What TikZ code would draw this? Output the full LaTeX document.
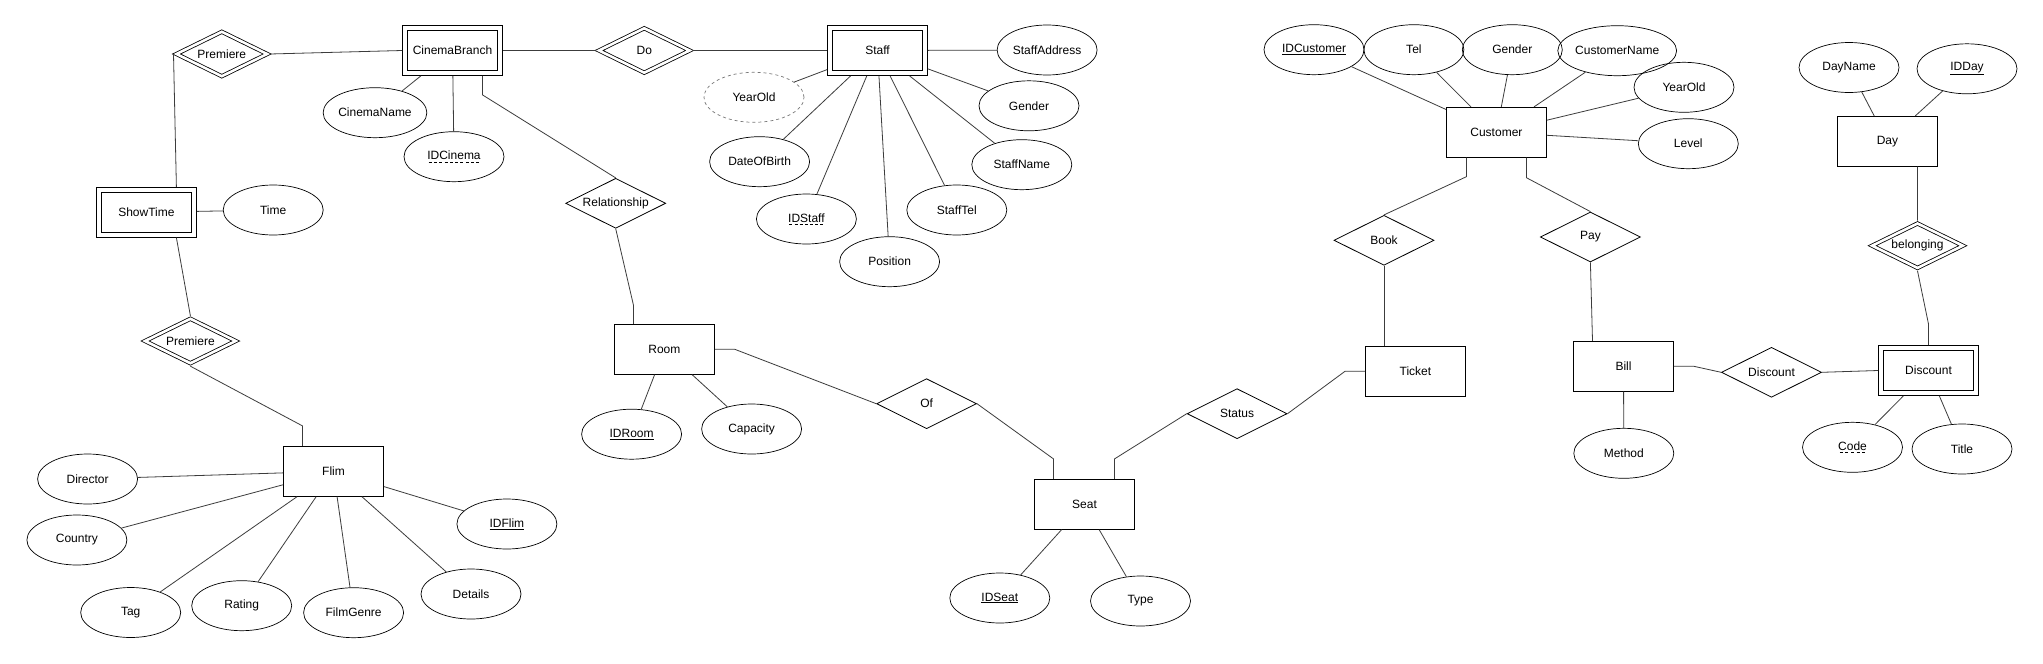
\documentclass[tikz,border=0pt]{standalone}
\usepackage{fontspec}
\setmainfont{Liberation Sans}
\usepackage{tikz}
\usetikzlibrary{shapes.geometric,calc}
\usepackage{xcolor}
\definecolor{linegray}{RGB}{60,60,60}
\definecolor{derivedgray}{RGB}{120,120,120}
\tikzstyle{entity} = [draw, rectangle, line width=0.8pt, minimum width=100pt, minimum height=50pt, inner sep=0pt]
\tikzstyle{weakentity} = [entity, double, double distance=4pt, minimum width=95.2pt, minimum height=45.2pt, outer sep=2.8pt]
\tikzstyle{attr} = [draw, ellipse, line width=0.7pt, minimum width=100pt, minimum height=50pt, inner sep=0pt]
\tikzstyle{derivedattr} = [attr, dashed, draw=derivedgray]
\tikzstyle{relation} = [draw, diamond, aspect=2, line width=0.8pt, minimum width=100pt, minimum height=50pt, inner sep=0pt]
\tikzstyle{weakrelation} = [relation, double, double distance=2.6pt, minimum width=92.4pt, minimum height=46.2pt, outer sep=2.1pt]
\tikzstyle{erline} = [line width=0.8pt, color=linegray]
% dashed underline for partial keys
\newcommand{\partkey}[1]{\setbox0\hbox{#1}\rlap{\hbox to \wd0{\xleaders\hbox to 5pt{\hss\vrule height -1.6pt depth 2.3pt width 3pt\hss}\hfill}}\box0}

\begin{document}
\begin{tikzpicture}[x=1pt, y=-1pt, font=\fontsize{12}{14}\selectfont]
\fill[white] (0,0) rectangle (2043,664);
\useasboundingbox (0,0) rectangle (2043,664);

% Cinema branch and show times
\node[weakentity] (branch) at (452.5,50.5) {CinemaBranch};
\node[weakrelation] (prem1) at (221.8,54) {Premiere};
\node[weakentity] (show) at (146.4,212.3) {ShowTime};
\node[attr] (time) at (273.2,210) {Time};
\node[attr] (cname) at (375,112.7) {CinemaName};
\node[attr] (idcinema) at (454,156.7) {\partkey{IDCinema}};
\node[relation] (relship) at (615.7,203.3) {Relationship};
\node[weakrelation] (prem2) at (190.4,341) {Premiere};

% Film
\node[entity] (film) at (333.5,471.3) {Flim};
\node[attr] (director) at (87.6,479) {Director};
\node[attr] (country) at (76.9,540) {Country};
\node[attr] (tag) at (130.7,612.5) {Tag};
\node[attr] (rating) at (241.7,605.7) {Rating};
\node[attr] (genre) at (353.6,612.7) {FilmGenre};
\node[attr] (details) at (471,594) {Details};
\node[attr] (idfilm) at (506.9,524) {\underline{IDFlim}};

% Staff
\node[weakrelation] (do) at (644.3,50.5) {Do};
\node[weakentity] (staff) at (877.5,50.5) {Staff};
\node[attr] (saddr) at (1047.1,50) {StaffAddress};
\node[derivedattr] (syear) at (754,97.3) {YearOld};
\node[attr] (sgender) at (1029,105.8) {Gender};
\node[attr] (dob) at (759.6,161.7) {DateOfBirth};
\node[attr] (sname) at (1021.8,164.7) {StaffName};
\node[attr] (idstaff) at (806.4,219) {\partkey{IDStaff}};
\node[attr] (stel) at (956.8,210) {StaffTel};
\node[attr] (position) at (889.6,261.7) {Position};

% Room and seat
\node[entity] (room) at (664.4,349.3) {Room};
\node[attr] (idroom) at (631.6,434.2) {\underline{IDRoom}};
\node[attr] (capacity) at (751.6,429) {Capacity};
\node[relation] (of) at (926.6,403.7) {Of};
\node[entity] (seat) at (1084.5,504.3) {Seat};
\node[attr] (idseat) at (999.8,598) {\underline{IDSeat}};
\node[attr] (type) at (1140.5,601) {Type};
\node[relation] (status) at (1237.1,413.7) {Status};
\node[entity] (ticket) at (1415.4,371.3) {Ticket};

% Customer
\node[entity] (cust) at (1496.4,132.3) {Customer};
\node[attr] (idcust) at (1314,49.7) {\underline{IDCustomer}};
\node[attr] (tel) at (1413.9,49.7) {Tel};
\node[attr] (cgender) at (1512.3,49.7) {Gender};
\node[attr] (custname) at (1617.2,50.7) {CustomerName};
\node[attr] (cyear) at (1684,87.3) {YearOld};
\node[attr] (level) at (1688.3,143.7) {Level};
\node[relation] (book) at (1384,240.3) {Book};
\node[relation] (pay) at (1590.4,237) {Pay};

% Bill, discount and day
\node[entity] (bill) at (1623.5,366.3) {Bill};
\node[attr] (method) at (1623.8,453.3) {Method};
\node[relation] (discrel) at (1771.5,372.3) {Discount};
\node[weakentity] (discount) at (1928.5,370.5) {Discount};
\node[attr] (code) at (1852.5,447.3) {\partkey{Code}};
\node[attr] (title) at (1962,449) {Title};
\node[entity] (day) at (1887.4,141.3) {Day};
\node[attr] (dayname) at (1849,67.5) {DayName};
\node[attr] (idday) at (1967,68.8) {\underline{IDDay}};
\node[weakrelation] (belong) at (1917.5,245.7) {belonging};

% Attribute lines
\draw[erline] (show) -- (time);
\foreach \a in {cname,idcinema} \draw[erline] (branch) -- (\a);
\foreach \a in {director,country,tag,rating,genre,details,idfilm} \draw[erline] (film) -- (\a);
\foreach \a in {saddr,syear,sgender,dob,sname,idstaff,stel,position} \draw[erline] (staff) -- (\a);
\foreach \a in {idroom,capacity} \draw[erline] (room) -- (\a);
\foreach \a in {idseat,type} \draw[erline] (seat) -- (\a);
\foreach \a in {idcust,tel,cgender,custname,cyear,level} \draw[erline] (cust) -- (\a);
\draw[erline] (bill) -- (method);
\foreach \a in {code,title} \draw[erline] (discount) -- (\a);
\foreach \a in {dayname,idday} \draw[erline] (day) -- (\a);

% Relationship lines
\draw[erline] (prem1.east) -- (branch.west);
\draw[erline] (prem1.west) -- ($(show.north)+(30,0)$);
\draw[erline] ($(show.south)+(30,0)$) -- (prem2.north);
\draw[erline] (prem2.south) -- ($(film.north)+(-31,-20)$) -- ($(film.north)+(-31,0)$);
\draw[erline] (branch.east) -- (do.west);
\draw[erline] (do.east) -- (staff.west);
\draw[erline] ($(branch.south)+(30,0)$) -- ++(0,19) -- (relship.north);
\draw[erline] (relship.south) -- ($(room.north)+(-31,-19)$) -- ($(room.north)+(-31,0)$);
\draw[erline] (room.east) -- ++(20,0) -- (of.west);
\draw[erline] (of.east) -- ($(seat.north)+(-31,-20)$) -- ($(seat.north)+(-31,0)$);
\draw[erline] ($(seat.north)+(30,0)$) -- ++(0,-20) -- (status.west);
\draw[erline] (status.east) -- ($(ticket.west)+(-20,0)$) -- (ticket.west);
\draw[erline] (book.south) -- (book.south |- ticket.north);
\draw[erline] ($(cust.south)+(-30,0)$) -- ++(0,19) -- (book.north);
\draw[erline] ($(cust.south)+(30,0)$) -- ++(0,20) -- (pay.north);
\draw[erline] (pay.south) -- ($(bill.north)+(-31,0)$);
\draw[erline] (bill.east) -- ++(20,0) -- (discrel.west);
\draw[erline] (discrel.east) -- (discount.west);
\draw[erline] ($(day.south)+(30,0)$) -- (belong.north);
\draw[erline] (belong.south) -- ($(discount.north)+(0,-21)$) -- (discount.north);
\end{tikzpicture}
\end{document}
